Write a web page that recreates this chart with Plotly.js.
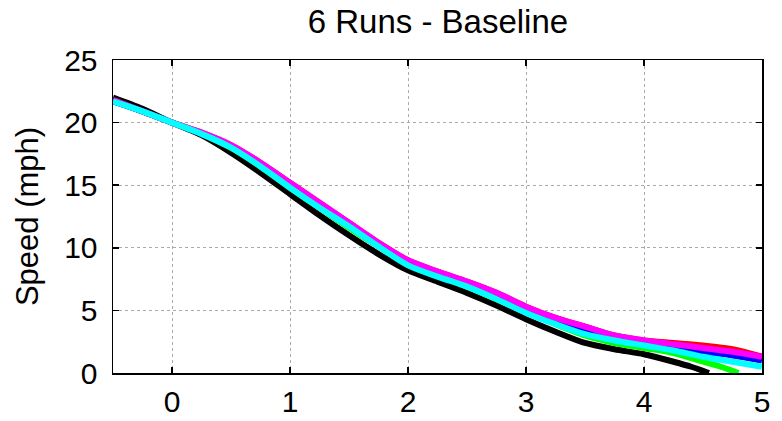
<!DOCTYPE html>
<html>
<head>
<meta charset="utf-8">
<script src="https://cdn.plot.ly/plotly-3.0.1.min.js"></script>
<style>html,body{margin:0;padding:0;background:#fff;}#chart{width:782px;height:421px;}</style>
</head>
<body>
<div id="chart"></div>
<script>
var time = [-0.5, -0.25, 0, 0.25, 0.5, 0.75, 1, 1.25, 1.5, 1.75, 2, 2.25, 2.5, 2.75, 3, 3.25, 3.5, 3.75, 4, 4.25, 4.5, 4.75, 5];
var timeBlack = [-0.5, -0.25, 0, 0.25, 0.5, 0.75, 1, 1.25, 1.5, 1.75, 2, 2.25, 2.5, 2.75, 3, 3.25, 3.5, 3.75, 4, 4.25, 4.4, 4.55];
var timeGreen = [-0.5, -0.25, 0, 0.25, 0.5, 0.75, 1, 1.25, 1.5, 1.75, 2, 2.25, 2.5, 2.75, 3, 3.25, 3.5, 3.75, 4, 4.25, 4.5, 4.65, 4.8];
var run1Black = [22.0, 21.1, 20.0, 19.0, 17.6, 16.0, 14.3, 12.6, 11.0, 9.5, 8.2, 7.3, 6.4, 5.4, 4.3, 3.3, 2.4, 1.9, 1.5, 0.9, 0.5, 0.0];
var run2Red = [21.8, 20.9, 20.0, 19.2, 18.2, 16.8, 15.2, 13.6, 12.0, 10.4, 9.0, 8.1, 7.3, 6.4, 5.3, 4.4, 3.7, 3.0, 2.6, 2.4, 2.2, 1.9, 1.3];
var run3Green = [21.7, 20.9, 20.0, 19.1, 18.0, 16.5, 14.8, 13.2, 11.6, 10.1, 8.7, 7.8, 6.9, 5.9, 4.9, 3.9, 3.0, 2.4, 2.0, 1.6, 0.9, 0.5, 0.0];
var run4Blue = [21.7, 20.9, 20.0, 19.1, 18.1, 16.6, 15.0, 13.4, 11.8, 10.2, 8.8, 7.9, 7.0, 6.1, 5.0, 4.1, 3.3, 2.7, 2.4, 2.1, 1.7, 1.4, 1.0];
var run5Magenta = [21.8, 20.9, 20.0, 19.2, 18.2, 16.8, 15.2, 13.6, 12.0, 10.4, 9.0, 8.1, 7.3, 6.4, 5.3, 4.4, 3.7, 3.0, 2.6, 2.3, 2.0, 1.7, 1.3];
var run6Cyan = [21.7, 20.9, 20.0, 19.1, 18.0, 16.5, 14.8, 13.2, 11.7, 10.1, 8.6, 7.7, 6.9, 5.9, 4.8, 3.9, 3.1, 2.6, 2.2, 1.8, 1.3, 0.9, 0.5];
var xTicks = [0, 1, 2, 3, 4, 5];
var yTicks = [0, 5, 10, 15, 20, 25];

function tr(x, y, c) {
  return {x: x, y: y, mode: 'lines', type: 'scatter', line: {color: c, width: 6, shape: 'spline', smoothing: 0.8}, hoverinfo: 'skip', showlegend: false};
}
var data = [
  tr(timeBlack, run1Black, '#000000'),
  tr(time, run2Red, '#ff0000'),
  tr(timeGreen, run3Green, '#00ff00'),
  tr(time, run4Blue, '#0000ff'),
  tr(time, run5Magenta, '#ff00ff'),
  tr(time, run6Cyan, '#00ffff')
];
var fam = 'Liberation Sans, Arial, sans-serif';
var font = {family: fam, size: 30, color: '#000'};
var layout = {
  width: 782, height: 421,
  margin: {l: 113, r: 20, t: 60, b: 48, pad: 0},
  paper_bgcolor: '#fff', plot_bgcolor: '#fff',
  font: font,
  title: {text: '6 Runs - Baseline', font: {family: fam, size: 33, color: '#000'}, x: 0.56, xanchor: 'center', y: 0.948, yanchor: 'middle'},
  xaxis: {range: [-0.5, 5], tickvals: xTicks, ticktext: xTicks.map(String), ticks: 'inside', ticklen: 6, tickcolor: '#000', tickwidth: 1.5,
          showline: true, linecolor: '#000', linewidth: 1.5, mirror: 'ticks', showgrid: true, gridcolor: '#aaa', griddash: 'dot', gridwidth: 1,
          zeroline: false, tickfont: font, ticklabelstandoff: 1, fixedrange: true},
  yaxis: {range: [0, 25], tickvals: yTicks, ticktext: yTicks.map(String), ticks: 'inside', ticklen: 6, tickcolor: '#000', tickwidth: 1.5,
          showline: true, linecolor: '#000', linewidth: 1.5, mirror: 'ticks', showgrid: true, gridcolor: '#aaa', griddash: 'dot', gridwidth: 1,
          zeroline: false, tickfont: font, ticklabelstandoff: 8, fixedrange: true,
          title: {text: 'Speed (mph)', font: {family: fam, size: 31, color: '#000'}, standoff: 16}}
};
Plotly.newPlot('chart', data, layout, {displayModeBar: false, staticPlot: true});
</script>
</body>
</html>
